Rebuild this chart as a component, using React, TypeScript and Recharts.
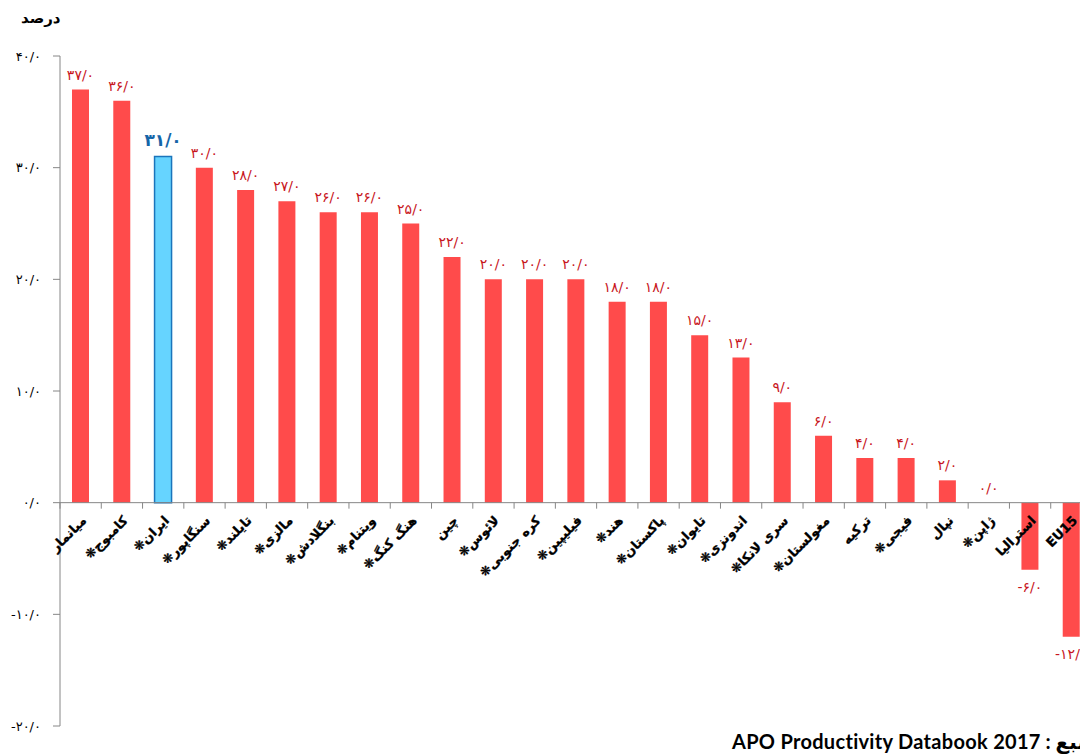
import { Bar, BarChart, Cell, LabelList, ReferenceLine, XAxis, YAxis } from "recharts";

// labour productivity growth by economy, percent
const countries = [
  "میانمار",
  "کامبوج❋",
  "ایران❋",
  "سنگاپور❋",
  "تایلند❋",
  "مالزی❋",
  "بنگلادش❋",
  "ویتنام❋",
  "هنگ کنگ❋",
  "چین",
  "لائوس❋",
  "کره جنوبی❋",
  "فیلیپین❋",
  "هند❋",
  "پاکستان❋",
  "تایوان❋",
  "اندونزی❋",
  "سری لانکا❋",
  "مغولستان❋",
  "ترکیه",
  "فیجی❋",
  "نپال",
  "ژاپن❋",
  "استرالیا",
  "EU15",
];
const growth = [37, 36, 31, 30, 28, 27, 26, 26, 25, 22, 20, 20, 20, 18, 18, 15, 13, 9, 6, 4, 4, 2, 0, -6, -12];
const yTicks = [-20, -10, 0, 10, 20, 30, 40];
const highlighted = "ایران❋";

const Y_MIN = -20;
const Y_MAX = 40;
const TOP = 56;
const X_AXIS_H = 28;
const CHART_W = 1100;
const CHART_H = 754;
const PLOT_H = CHART_H - TOP - X_AXIS_H;
const ZERO_Y = TOP + (PLOT_H * Y_MAX) / (Y_MAX - Y_MIN);

const FA_FONT = "'DejaVu Sans', sans-serif";
const faDigits = "۰۱۲۳۴۵۶۷۸۹";

function toFa(v: number) {
  return v
    .toFixed(1)
    .replace(/\d/g, (d) => faDigits[Number(d)])
    .replace(".", "/");
}

const data = countries.map((name, i) => ({ name, value: growth[i] }));

function CountryTick(props: any) {
  const { x, payload, index, visibleTicksCount } = props;
  const half = payload.offset ?? 20.6;
  const label = payload.value + "\u200F";
  return (
    <g>
      <line x1={x - half} x2={x - half} y1={ZERO_Y} y2={ZERO_Y + 6} stroke="#868686" />
      {index === visibleTicksCount - 1 && (
        <line x1={x + half} x2={x + half} y1={ZERO_Y} y2={ZERO_Y + 6} stroke="#868686" />
      )}
      <g transform={`translate(${x + 3},${ZERO_Y + 15})`}>
        <text
          transform="rotate(-45)"
          textAnchor="end"
          dy="0.4em"
          fontFamily={FA_FONT}
          fontWeight="bold"
          fontSize={13}
          fill="#000"
          stroke="#000"
          strokeWidth={0.3}
        >
          {label}
        </text>
      </g>
    </g>
  );
}

function ValueLabel(props: any) {
  const { x, y, width, height, value, index } = props;
  const top = Math.min(y, y + height);
  const bottom = Math.max(y, y + height);
  const isIran = countries[index] === highlighted;
  const ly = value >= 0 ? top - (isIran ? 11 : 10) : bottom + 22;
  return (
    <text
      x={x + width / 2}
      y={ly}
      textAnchor="middle"
      fontFamily={FA_FONT}
      fontSize={isIran ? 17 : 14}
      fontWeight={isIran ? "bold" : "normal"}
      fill={isIran ? "#1565a8" : "#c8161d"}
    >
      {toFa(value)}
    </text>
  );
}

export default function App() {
  return (
    <div
      style={{
        position: "absolute",
        left: 0,
        top: 0,
        width: 1080,
        height: 754,
        overflow: "hidden",
        background: "#fff",
      }}
    >
      <div
        dir="rtl"
        style={{
          position: "absolute",
          left: 21,
          top: 9,
          fontFamily: FA_FONT,
          fontWeight: "bold",
          fontSize: 15,
          color: "#000",
        }}
      >
        درصد
      </div>
      <BarChart
        width={CHART_W}
        height={CHART_H}
        data={data}
        margin={{ top: TOP, right: 8, bottom: 0, left: 0 }}
      >
        <YAxis
          domain={[Y_MIN, Y_MAX]}
          ticks={yTicks}
          width={60}
          tickFormatter={toFa}
          tickSize={7}
          tickMargin={12}
          axisLine={{ stroke: "#868686" }}
          tickLine={{ stroke: "#868686" }}
          tick={{ fill: "#000", fontSize: 13, fontFamily: FA_FONT }}
        />
        <XAxis
          dataKey="name"
          height={X_AXIS_H}
          axisLine={false}
          tickLine={false}
          interval={0}
          tick={<CountryTick />}
        />
        <ReferenceLine y={0} stroke="#868686" />
        <Bar dataKey="value" barSize={17} minPointSize={0.01} isAnimationActive={false}>
          {data.map((d) => (
            <Cell
              key={d.name}
              fill={d.name === highlighted ? "#66d4ff" : "#ff4b4b"}
              stroke={d.name === highlighted ? "#1a75bc" : "none"}
              strokeWidth={1.5}
            />
          ))}
          <LabelList dataKey="value" content={<ValueLabel />} />
        </Bar>
      </BarChart>
      <div
        dir="rtl"
        style={{
          position: "absolute",
          right: -18,
          top: 729,
          fontFamily: "Lato, 'DejaVu Sans', sans-serif",
          fontWeight: "bold",
          fontSize: 20,
          letterSpacing: 0.3,
          color: "#000",
          whiteSpace: "nowrap",
        }}
      >
        منبع : APO Productivity Databook 2017
      </div>
    </div>
  );
}
